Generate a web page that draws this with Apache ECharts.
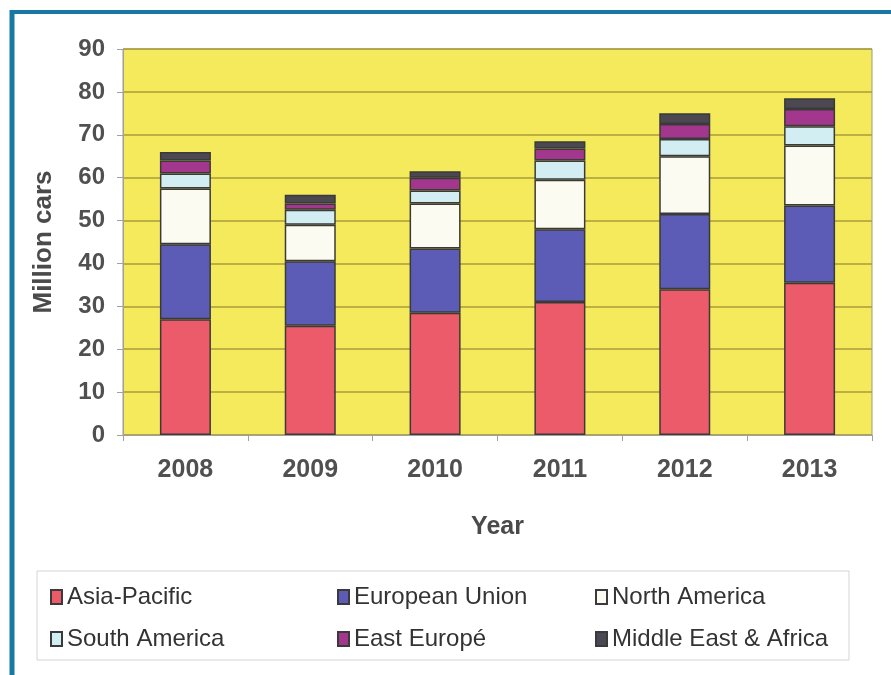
<!DOCTYPE html>
<html>
<head>
<meta charset="utf-8">
<script src="https://cdn.jsdelivr.net/npm/echarts@6/dist/echarts.min.js"></script>
<style>html,body{margin:0;padding:0;background:#fff;}#c{width:891px;height:675px;}</style>
</head>
<body>
<div id="c"></div>
<script>
var years = ['2008', '2009', '2010', '2011', '2012', '2013'];
var asiaPacific = [27, 25.5, 28.5, 31, 34, 35.5];
var europeanUnion = [17.5, 15, 15, 17, 17.5, 18];
var northAmerica = [13, 8.5, 10.5, 11.5, 13.5, 14];
var southAmerica = [3.5, 3.5, 3, 4.5, 4, 4.5];
var eastEurope = [3, 1.5, 3, 2.8, 3.5, 4];
var middleEastAfrica = [2, 2, 1.5, 1.7, 2.5, 2.5];
var yTicks = [0, 10, 20, 30, 40, 50, 60, 70, 80, 90];

var seriesDefs = [
  { name: 'Asia-Pacific', data: asiaPacific, color: '#ec5b6a' },
  { name: 'European Union', data: europeanUnion, color: '#5c5cb6' },
  { name: 'North America', data: northAmerica, color: '#fcfbf2' },
  { name: 'South America', data: southAmerica, color: '#d3eef2' },
  { name: 'East Europé', data: eastEurope, color: '#a3378e' },
  { name: 'Middle East & Africa', data: middleEastAfrica, color: '#4b4852' }
];

var chart = echarts.init(document.getElementById('c'));
var legendCommon = {
  orient: 'vertical',
  itemWidth: 11,
  itemHeight: 14,
  itemGap: 16,
  icon: 'rect',
  textStyle: { fontFamily: 'Liberation Sans, Arial', fontSize: 24, lineHeight: 26, color: '#333' },
  selectedMode: false
};
chart.setOption({
  animation: false,
  backgroundColor: '#ffffff',
  grid: {
    left: 123, right: 19, top: 49, bottom: 240,
    show: true, backgroundColor: '#f4ea5b', borderColor: '#9a9a88', borderWidth: 1
  },
  graphic: [
    { type: 'rect', shape: { x: 37, y: 571, width: 812, height: 89 },
      style: { fill: 'none', stroke: '#d6d2d2', lineWidth: 1 }, z: 1 },
    { type: 'line', shape: { x1: 12, y1: 12, x2: 891, y2: 12 },
      style: { stroke: '#1878a4', lineWidth: 4 } },
    { type: 'line', shape: { x1: 12, y1: 10, x2: 12, y2: 675 },
      style: { stroke: '#1878a4', lineWidth: 5 } }
  ],
  legend: [
    Object.assign({ left: 45, top: 579, data: ['Asia-Pacific', 'South America'] }, legendCommon),
    Object.assign({ left: 332, top: 579, data: ['European Union', 'East Europé'] }, legendCommon),
    Object.assign({ left: 590, top: 579, data: ['North America', 'Middle East & Africa'] }, legendCommon)
  ],
  xAxis: {
    type: 'category',
    data: years,
    name: 'Year',
    nameLocation: 'middle',
    nameGap: 80,
    nameTextStyle: { fontFamily: 'Liberation Sans, Arial', fontSize: 25, fontWeight: 'bold', color: '#4a4a4a' },
    axisLine: { show: true, lineStyle: { color: '#a0a0a0', width: 1 } },
    axisTick: { show: true, length: 6, lineStyle: { color: '#a0a0a0' } },
    axisLabel: { margin: 23, fontFamily: 'Liberation Sans, Arial', fontSize: 25, fontWeight: 'bold', color: '#505050' }
  },
  yAxis: {
    type: 'value',
    min: 0, max: 90, interval: 10,
    name: 'Million cars',
    nameLocation: 'middle',
    nameGap: 66,
    nameTextStyle: { fontFamily: 'Liberation Sans, Arial', fontSize: 26, fontWeight: 'bold', color: '#4a4a4a' },
    axisLine: { show: true, lineStyle: { color: '#a0a0a0', width: 1 } },
    axisTick: { show: true, inside: false, length: 6, lineStyle: { color: '#a0a0a0' } },
    axisLabel: {
      margin: 18, fontFamily: 'Liberation Sans, Arial', fontSize: 24, fontWeight: 'bold', color: '#505050',
      formatter: function (v) { return yTicks.indexOf(v) >= 0 ? String(v) : ''; }
    },
    splitLine: { show: true, lineStyle: { color: '#a89d38', width: 1.5 } }
  },
  series: seriesDefs.map(function (s) {
    return {
      name: s.name,
      type: 'bar',
      stack: 'total',
      barWidth: 51,
      data: s.data,
      itemStyle: { color: s.color, borderColor: '#3a3a3a', borderWidth: 1.5 }
    };
  })
});
</script>
</body>
</html>
